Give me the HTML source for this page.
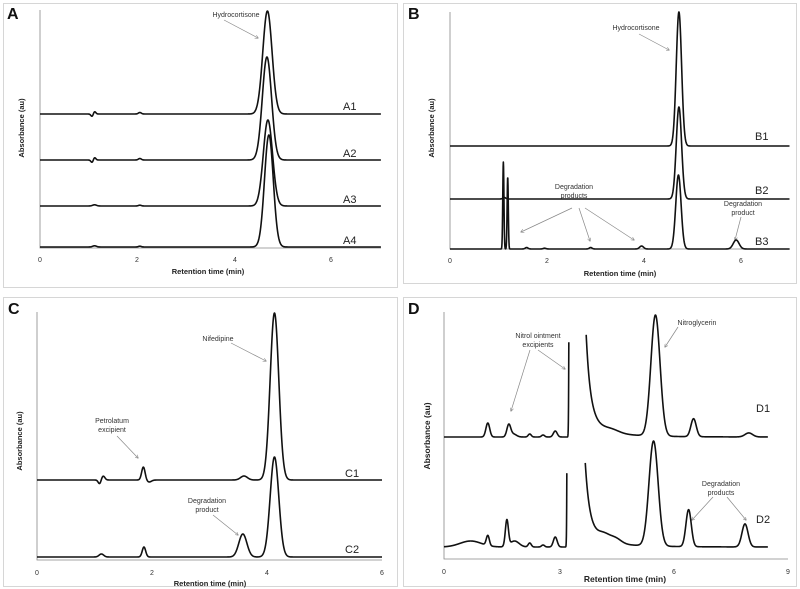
<!DOCTYPE html>
<html><head><meta charset="utf-8"><style>
body{margin:0;background:#fff;}
svg{display:block;font-family:"Liberation Sans",sans-serif;}
.lab{font-size:7px;fill:#333}
.tk{font-size:7px;fill:#333}
.ax{font-size:7.5px;font-weight:bold;fill:#222}
.let{font-size:16px;font-weight:bold;fill:#111}
.tr{font-size:11px;fill:#222}
</style></head><body>
<svg id="s" width="800" height="589" viewBox="0 0 800 589">
<defs><marker id="ah" viewBox="0 0 6 6" refX="5" refY="3" markerWidth="5" markerHeight="5" orient="auto"><path d="M0,0L6,3L0,6" fill="none" stroke="#888" stroke-width="1"/></marker></defs>
<rect x="0" y="0" width="800" height="589" fill="#fff"/>
<g fill="none" stroke="#d6d6d6" stroke-width="1">
<rect x="3.5" y="3.5" width="394" height="284"/>
<rect x="403.5" y="3.5" width="393" height="280"/>
<rect x="3.5" y="297.5" width="394" height="289"/>
<rect x="403.5" y="297.5" width="393" height="289"/>
</g>
<text class="let" x="7" y="19">A</text>
<text class="let" x="408" y="19">B</text>
<text class="let" x="8" y="314">C</text>
<text class="let" x="408" y="314">D</text>
<g id="axes" stroke="#888" stroke-width="0.8" fill="none">
<path d="M40,10V248H381"/>
<path d="M450,12V249H790"/>
<path d="M37,312V560H382"/>
<path d="M444,312V559H788"/>
</g>
<g class="tk" text-anchor="middle">
<text x="40" y="262">0</text><text x="137" y="262">2</text><text x="235" y="262">4</text><text x="331" y="262">6</text>
<text x="450" y="263">0</text><text x="547" y="263">2</text><text x="644" y="263">4</text><text x="741" y="263">6</text>
<text x="37" y="575">0</text><text x="152" y="575">2</text><text x="267" y="575">4</text><text x="382" y="575">6</text>
<text x="444" y="574">0</text><text x="560" y="574">3</text><text x="674" y="574">6</text><text x="788" y="574">9</text>
</g>
<g class="ax" text-anchor="middle">
<text x="208" y="274">Retention time (min)</text>
<text x="620" y="276">Retention time (min)</text>
<text x="210" y="586">Retention time (min)</text>
<text x="625" y="582" style="font-size:8.5px">Retention time (min)</text>
<text transform="translate(24,128) rotate(-90)">Absorbance (au)</text>
<text transform="translate(434,128) rotate(-90)">Absorbance (au)</text>
<text transform="translate(22,441) rotate(-90)">Absorbance (au)</text>
<text transform="translate(430,436) rotate(-90)" style="font-size:8.5px">Absorbance (au)</text>
</g>
<g class="tr">
<text x="343" y="110">A1</text><text x="343" y="157">A2</text><text x="343" y="203">A3</text><text x="343" y="244">A4</text>
<text x="755" y="140">B1</text><text x="755" y="194">B2</text><text x="755" y="245">B3</text>
<text x="345" y="477">C1</text><text x="345" y="553">C2</text>
<text x="756" y="412">D1</text><text x="756" y="523">D2</text>
</g>
<g class="lab" text-anchor="middle">
<text x="236" y="17">Hydrocortisone</text>
<text x="636" y="30">Hydrocortisone</text>
<text x="574" y="189">Degradation</text><text x="574" y="198">products</text>
<text x="743" y="206">Degradation</text><text x="743" y="215">product</text>
<text x="218" y="341">Nifedipine</text>
<text x="112" y="423">Petrolatum</text><text x="112" y="432">excipient</text>
<text x="207" y="503">Degradation</text><text x="207" y="512">product</text>
<text x="538" y="338">Nitrol ointment</text><text x="538" y="347">excipients</text>
<text x="697" y="325">Nitroglycerin</text>
<text x="721" y="486">Degradation</text><text x="721" y="495">products</text>
</g>
<g stroke="#888" stroke-width="0.7" fill="none" marker-end="url(#ah)">
<path d="M224,20L258,38"/>
<path d="M639,34L669,50"/>
<path d="M572,208L521,232"/><path d="M579,208L590,241"/><path d="M585,208L634,240"/>
<path d="M741,217L735,240"/>
<path d="M231,343L266,361"/>
<path d="M117,436L138,458"/>
<path d="M213,515L238,535"/>
<path d="M530,350L511,411"/><path d="M538,350L565,369"/>
<path d="M678,327L665,347"/>
<path d="M713,497L692,520"/><path d="M727,497L746,520"/>
</g>
<g id="tr" stroke="#111" stroke-width="1.6" fill="none" stroke-linejoin="round"></g>
</svg>
<script>
var g=document.getElementById('tr');
function G(t,c,h,s){var d=(t-c)/s;return h*Math.exp(-d*d/2);}
function draw(x0,ppm,t1,base,f,clip,ca,cb){
 var d='',pen=false;
 for(var t=0;t<=t1;t+=0.004){
  var v=f(t);var y=base-v;var x=x0+t*ppm;
  if(clip&&t>ca&&t<cb&&y<clip){pen=false;continue;}
  d+=(pen?'L':'M')+x.toFixed(2)+','+y.toFixed(2);pen=true;
 }
 var p=document.createElementNS('http://www.w3.org/2000/svg','path');
 p.setAttribute('d',d);g.appendChild(p);
}
function art(t,a){return G(t,1.12,a*2.5,0.025)-G(t,1.07,a*2.5,0.025)+G(t,2.05,a*1.5,0.03);}
var ax=40,ap=48.7;
draw(ax,ap,7.0,114,function(t){return G(t,4.67,103,0.095)+art(t,1);});
draw(ax,ap,7.0,160,function(t){return G(t,4.66,103,0.095)+art(t,1);});
draw(ax,ap,7.0,206,function(t){return G(t,4.68,86,0.095)+G(t,1.12,1.2,0.04)+G(t,2.05,0.8,0.03);});
draw(ax,ap,7.0,247,function(t){return G(t,4.7,112,0.09)+G(t,1.12,1.2,0.04)+G(t,2.05,0.8,0.03);});
var bx=450,bp=48.5;
draw(bx,bp,7.0,146,function(t){return G(t,4.72,134,0.055);});
draw(bx,bp,7.0,199,function(t){return G(t,4.72,92,0.055)+G(t,1.12,1.5,0.03);});
draw(bx,bp,7.0,249,function(t){return G(t,4.71,74,0.055)+G(t,1.1,87,0.012)+G(t,1.19,72,0.012)+G(t,1.58,1.5,0.03)+G(t,2.9,1.5,0.03)+G(t,3.95,3,0.04)+G(t,5.9,9,0.06)+G(t,1.95,0.8,0.03);});
var cx=37,cp=57.5;
draw(cx,cp,6.0,480,function(t){return G(t,4.13,167,0.075)+G(t,1.15,4,0.03)-G(t,1.09,4,0.025)+G(t,1.85,13,0.03)-G(t,1.95,2,0.04)+G(t,3.6,4,0.06);});
draw(cx,cp,6.0,557,function(t){return G(t,4.13,100,0.075)+G(t,1.12,3,0.04)+G(t,1.86,10,0.03)+G(t,3.58,23,0.07);});
var dx=444,dp=38.1;
function big(t,a,b){if(t<a)return 400*Math.exp(-Math.pow((a-t)/0.02,2));if(t<=b)return 400;return 150*Math.exp(-(t-b)/0.1)+40*Math.exp(-(t-b)/0.25)+8*Math.exp(-(t-b)/0.9);}
draw(dx,dp,8.5,437,function(t){return big(t,3.3,3.65)+G(t,1.15,14,0.05)+G(t,1.7,12,0.05)+G(t,1.82,3,0.08)+G(t,2.25,3,0.04)+G(t,2.6,2,0.04)+G(t,2.92,6,0.05)+G(t,4.4,3,0.2)+G(t,5.55,121,0.12)+G(t,6.55,18,0.07)+G(t,8.0,4,0.1);},332,3.2,3.8);
draw(dx,dp,8.5,547,function(t){return big(t,3.25,3.6)+G(t,0.7,6,0.28)+G(t,1.15,10,0.04)+G(t,1.65,26,0.04)+G(t,1.85,6,0.12)+G(t,2.25,4,0.04)+G(t,2.6,2,0.04)+G(t,2.92,10,0.05)+G(t,4.2,6,0.15)+G(t,4.5,5,0.15)+G(t,5.5,105,0.12)+G(t,6.42,37,0.07)+G(t,7.9,23,0.08);},461,3.15,3.75);
</script>
</body></html>
